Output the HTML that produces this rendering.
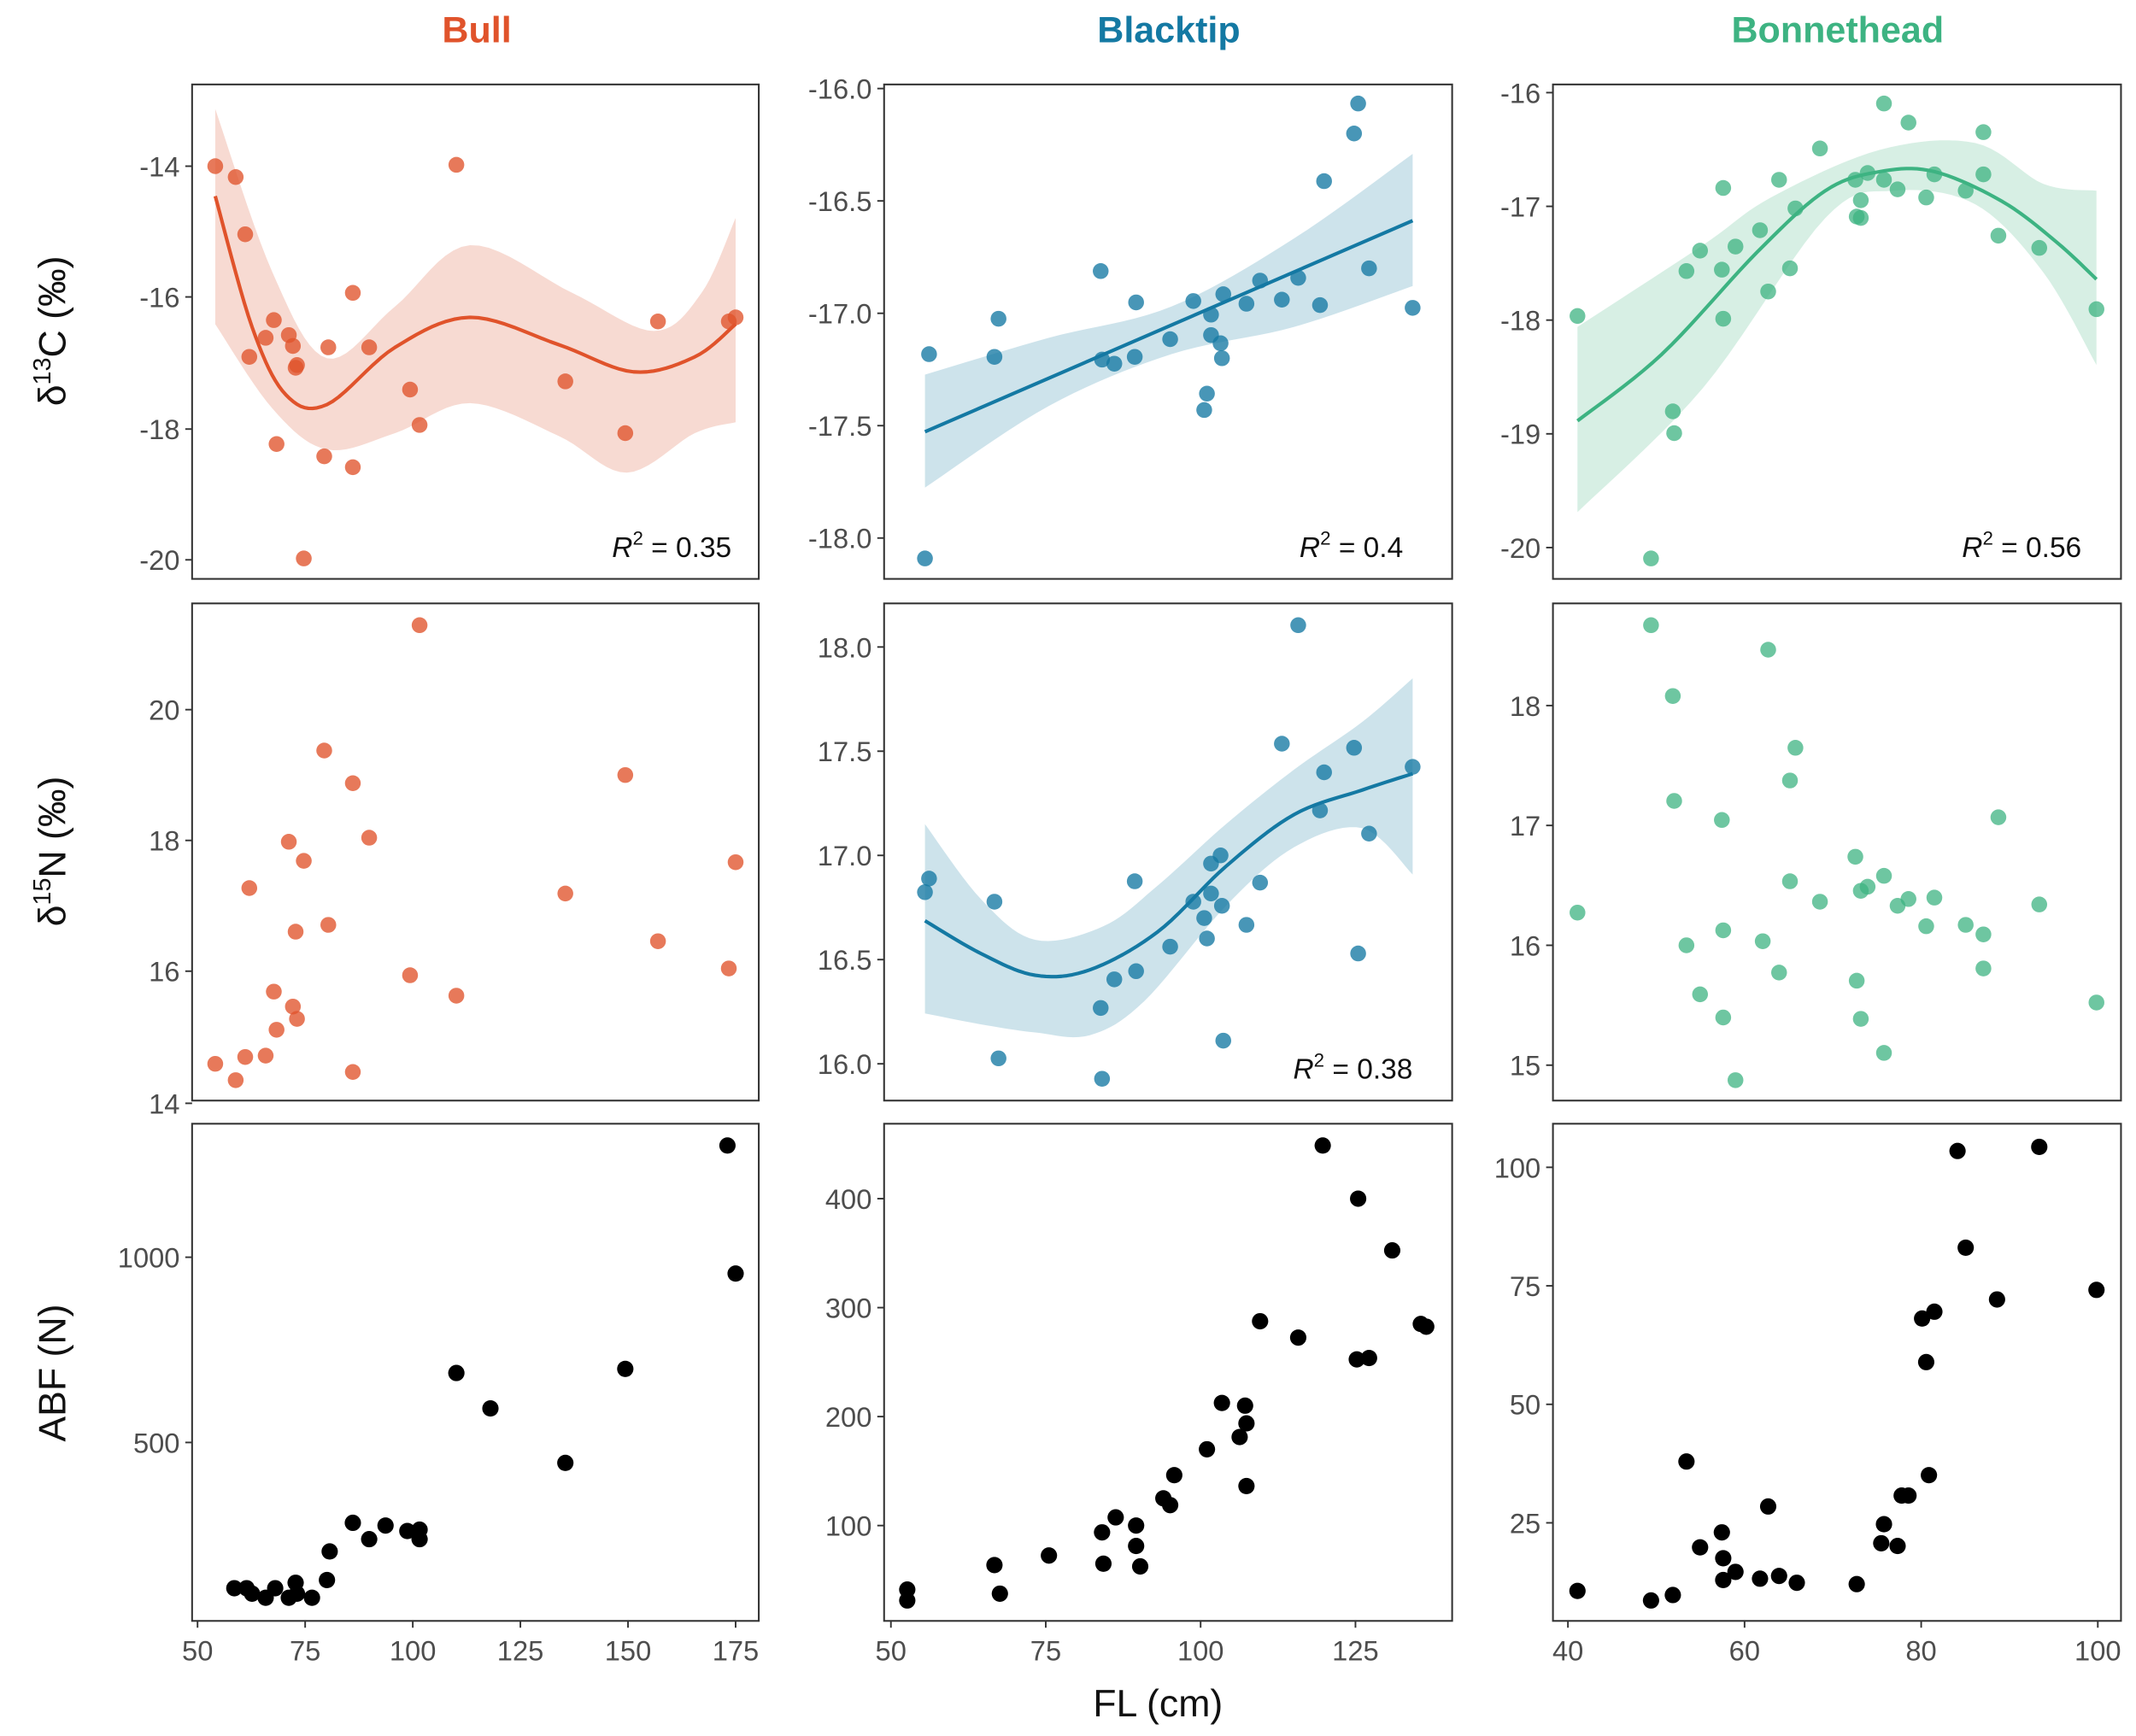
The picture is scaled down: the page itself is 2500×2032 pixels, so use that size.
<!DOCTYPE html>
<html><head><meta charset="utf-8"><style>
html,body{margin:0;padding:0;background:#fff}
svg{display:block}
text{font-family:"Liberation Sans",sans-serif}
</style></head><body>
<svg id="s" width="2500" height="2032" viewBox="0 0 1568 1274.5" xmlns="http://www.w3.org/2000/svg">
<rect width="1568" height="1274.5" fill="#fff"/>
<g id="g"></g>
</svg>
<script>
const NS="http://www.w3.org/2000/svg",G=document.getElementById('g');
function el(t,a,txt){const e=document.createElementNS(NS,t);for(const k in a)e.setAttribute(k,a[k]);if(txt!==undefined)e.textContent=txt;G.appendChild(e);return e;}
const cols=[[141,557],[649,1066],[1140,1557]],rows=[[62,425],[443,808],[825,1190]];
const BULL="#E0532B",BT="#1479A3",BN="#3DB382";
el('text',{x:350,y:31,'font-size':27,'font-weight':'bold',fill:BULL,'text-anchor':'middle'},'Bull');
el('text',{x:858,y:31,'font-size':27,'font-weight':'bold',fill:BT,'text-anchor':'middle'},'Blacktip');
el('text',{x:1349,y:31,'font-size':27,'font-weight':'bold',fill:BN,'text-anchor':'middle'},'Bonnethead');
function band(up,lo,c){let d='M'+up.map(p=>p.join(',')).join(' L')+' L'+lo.slice().reverse().map(p=>p.join(',')).join(' L')+'Z';el('path',{d:d,fill:c});}
function curve(p,c){let d='M'+p[0].join(',');for(let i=1;i<p.length;i++){d+=' L'+p[i].join(',');}el('path',{d:d,fill:'none',stroke:c,'stroke-width':2.6,'stroke-linejoin':'round'});}
function smooth(p){
 const o=[];for(let i=0;i<p.length-1;i++){const p0=p[Math.max(0,i-1)],p1=p[i],p2=p[i+1],p3=p[Math.min(p.length-1,i+2)];for(let t=0;t<1;t+=0.1){const t2=t*t,t3=t2*t;o.push([0,1].map(k=>0.5*((2*p1[k])+(-p0[k]+p2[k])*t+(2*p0[k]-5*p1[k]+4*p2[k]-p3[k])*t2+(-p0[k]+3*p1[k]-3*p2[k]+p3[k])*t3)));}}o.push(p[p.length-1]);return o;}
function pts(a,c,op,r){a.forEach(p=>el('circle',{cx:p[0],cy:p[1],r:r||5.8,fill:c,'fill-opacity':op}));}
function yt(ci,ri,ticks){const x=cols[ci][0];ticks.forEach(t=>{el('line',{x1:x-5,x2:x,y1:t[1],y2:t[1],stroke:'#333','stroke-width':1.2});el('text',{x:x-9,y:t[1]+7.5,'font-size':20.5,fill:'#4d4d4d','text-anchor':'end'},t[0]);});}
function xt(ci,ticks){const y=rows[2][1];ticks.forEach(t=>{el('line',{x1:t[1],x2:t[1],y1:y,y2:y+5,stroke:'#333','stroke-width':1.2});el('text',{x:t[1],y:y+29,'font-size':20.5,fill:'#4d4d4d','text-anchor':'middle'},t[0]);});}
function frame(ci,ri){el('rect',{x:cols[ci][0],y:rows[ri][0],width:cols[ci][1]-cols[ci][0],height:rows[ri][1]-rows[ri][0],fill:'none',stroke:'#333','stroke-width':1.3});}
band(smooth([[158,80],[200,200],[240,263],[290,225],[345,180],[420,215],[480,243],[515,215],[540,160]]),smooth([[158,238],[200,300],[240,330],[290,318],[345,296],[410,320],[460,347],[510,318],[540,310]]),'#F7DAD2');
curve(smooth([[158,144],[185,240],[210,290],[240,297],[290,255],[345,233],[410,253],[465,273],[510,262],[540,238]]),BULL);
pts([[158,122],[173,130],[180,172],[183,262],[195,248],[201,235],[203,326],[212,246],[215,254],[217,270],[218,268],[223,410],[238,335],[241,255],[259,215],[259,343],[271,255],[301,286],[308,312],[335,121],[415,280],[459,318],[483,236],[535,236],[540,233]],BULL,.78);
band(smooth([[679,275],[770,248],[860,225],[950,175],[1037,113]]),smooth([[679,358],[770,298],[860,260],[950,240],[1037,210]]),'#CDE3EB');
curve([[679,317],[1037,162]],BT);
pts([[679,410],[682,260],[730,262],[733,234],[808,199],[809,264],[818,267],[833,262],[834,222],[859,249],[876,221],[884,301],[886,289],[889,246],[889,231],[896,252],[897,263],[898,216],[915,223],[925,206],[941,220],[953,204],[969,224],[972,133],[994,98],[997,76],[1005,197],[1037,226]],BT,.78);
band(smooth([[1158,240],[1250,180],[1300,145],[1380,110],[1450,105],[1500,135],[1539,140]]),smooth([[1158,376],[1250,285],[1340,160],[1390,140],[1450,150],[1500,200],[1539,268]]),'#D7EFE4');
curve(smooth([[1158,309],[1220,260],[1290,185],[1340,140],[1380,126],[1420,126],[1470,148],[1510,178],[1539,205]]),BN);
pts([[1158,232],[1212,410],[1228,302],[1229,318],[1238,199],[1248,184],[1264,198],[1265,138],[1265,234],[1274,181],[1292,169],[1298,214],[1306,132],[1314,197],[1318,153],[1336,109],[1362,132],[1363,159],[1366,147],[1366,160],[1371,127],[1383,76],[1383,132],[1393,139],[1401,90],[1414,145],[1420,128],[1443,140],[1456,128],[1456,97],[1467,173],[1497,182],[1539,227]],BN,.75);
pts([[158,781],[173,793],[180,776],[183,652],[195,775],[201,728],[203,756],[212,618],[215,739],[217,684],[218,748],[223,632],[238,551],[241,679],[259,575],[259,787],[271,615],[301,716],[335,731],[308,459],[415,656],[459,569],[483,691],[535,711],[540,633]],BULL,.78);
band(smooth([[679,605],[720,660],[760,690],[810,680],[850,650],[900,605],[950,565],[1000,530],[1037,498]]),smooth([[679,744],[720,752],[760,758],[800,760],[840,735],[900,665],[950,622],[1000,608],[1037,642]]),'#CDE3EB');
curve(smooth([[679,676],[720,700],[760,716],[800,712],[850,684],[900,636],[950,598],[1000,580],[1037,568]]),BT);
pts([[679,655],[682,645],[730,662],[733,777],[808,740],[809,792],[818,719],[833,647],[834,713],[859,695],[876,662],[884,674],[886,689],[889,656],[889,634],[896,628],[897,665],[898,764],[915,679],[925,648],[941,546],[953,459],[969,595],[972,567],[994,549],[997,700],[1005,612],[1037,563]],BT,.78);
pts([[1158,670],[1212,459],[1228,511],[1229,588],[1238,694],[1248,730],[1264,602],[1265,747],[1265,683],[1274,793],[1294,691],[1298,477],[1306,714],[1314,573],[1314,647],[1318,549],[1336,662],[1362,629],[1363,720],[1366,748],[1366,654],[1371,651],[1383,643],[1383,773],[1393,665],[1401,660],[1414,680],[1420,659],[1443,679],[1456,686],[1456,711],[1467,600],[1497,664],[1539,736]],BN,.75);
pts([[172,1166],[181,1166],[185,1170],[195,1173],[202,1166],[212,1173],[217,1162],[218,1170],[229,1173],[240,1160],[242,1139],[259,1118],[271,1130],[283,1120],[299,1124],[308,1130],[308,1123],[335,1008],[360,1034],[415,1074],[459,1005],[534,841],[540,935]],'#000',1,6);
pts([[666,1167],[666,1175],[730,1149],[734,1170],[770,1142],[809,1125],[810,1148],[819,1114],[834,1135],[834,1120],[837,1150],[854,1100],[859,1105],[862,1083],[886,1064],[897,1030],[910,1055],[914,1032],[915,1091],[915,1045],[925,970],[953,982],[971,841],[996,998],[997,880],[1005,997],[1022,918],[1043,972],[1047,974]],'#000',1,6);
pts([[1158,1168],[1212,1175],[1228,1171],[1238,1073],[1248,1136],[1264,1125],[1265,1144],[1265,1160],[1274,1154],[1292,1159],[1298,1106],[1306,1157],[1319,1162],[1363,1163],[1381,1133],[1383,1119],[1393,1135],[1396,1098],[1401,1098],[1411,968],[1414,1000],[1416,1083],[1420,963],[1437,845],[1443,916],[1466,954],[1497,842],[1539,947]],'#000',1,6);
for(let c=0;c<3;c++)for(let r=0;r<3;r++)frame(c,r);
[[537,402,'0.35'],[1030,402,'0.4'],[1528,402,'0.56'],[1037,785,'0.38']].forEach(a=>{const t=el('text',{x:a[0],y:a[1]+7,'font-size':21,fill:'#111','text-anchor':'end'});t.innerHTML='<tspan font-style="italic">R</tspan><tspan dy="-9" font-size="14">2</tspan><tspan dy="9"> = '+a[2]+'</tspan>';});
yt(0,0,[['-14',122],['-16',218],['-18',315],['-20',411]]);
yt(1,0,[['-16.0',65],['-16.5',147.5],['-17.0',230],['-17.5',312.5],['-18.0',395]]);
yt(2,0,[['-16',68],['-17',151.5],['-18',235],['-19',318.5],['-20',402]]);
yt(0,1,[['20',521],['18',617],['16',713],['14',810]]);
yt(1,1,[['18.0',475],['17.5',551.5],['17.0',628],['16.5',704.5],['16.0',781]]);
yt(2,1,[['18',518],['17',606],['16',694],['15',782]]);
yt(0,2,[['1000',923],['500',1059]]);
yt(1,2,[['400',880],['300',960],['200',1040],['100',1120]]);
yt(2,2,[['100',857],['75',944],['50',1031],['25',1118]]);
xt(0,[50,75,100,125,150,175].map(v=>[v,145+3.16*(v-50)]));
xt(1,[50,75,100,125].map(v=>[v,654+4.547*(v-50)]));
xt(2,[40,60,80,100].map(v=>[v,1151+6.483*(v-40)]));
function yl(y,html){const t=el('text',{x:0,y:0,'font-size':28,fill:'#111','text-anchor':'middle',transform:'translate(48,'+y+') rotate(-90)'});t.innerHTML=html;}
yl(243,'δ<tspan dy="-11" font-size="18">13</tspan><tspan dy="11">C (‰)</tspan>');
yl(625,'δ<tspan dy="-11" font-size="18">15</tspan><tspan dy="11">N (‰)</tspan>');
yl(1008,'ABF (N)');
el('text',{x:850,y:1260,'font-size':28,fill:'#111','text-anchor':'middle'},'FL (cm)');
</script>
</body></html>
